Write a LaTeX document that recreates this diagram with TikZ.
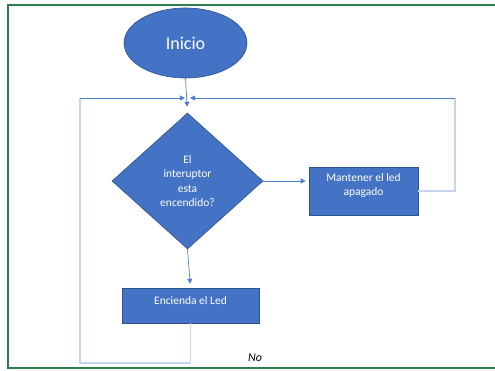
\documentclass[tikz,border=0pt]{standalone}
\usepackage{fontspec}
\setmainfont{Carlito}
\usetikzlibrary{shapes.geometric,arrows.meta}
\definecolor{fillblue}{HTML}{4472C4}
\definecolor{edgeblue}{HTML}{2F528F}
\definecolor{lineblue}{HTML}{4F7FD2}
\definecolor{lightblue}{HTML}{C5D4EF}
\definecolor{framegreen}{HTML}{2E7D4F}
\tikzset{
  shapebox/.style={draw=edgeblue, line width=0.6pt, fill=fillblue, text=white, font=\fontsize{11.5}{14.5}\selectfont, align=center, inner sep=0pt},
  flow/.style={draw=lineblue, line width=0.7pt, -{Triangle[length=5pt,width=5pt]}},
  loopline/.style={draw=lightblue, line width=1.3pt},
  toparrow/.style={draw=lineblue, line width=0.8pt, -{Triangle[length=5pt,width=5pt]}}
}
\begin{document}
\begin{tikzpicture}[x=1pt,y=-1pt]
\useasboundingbox (0,0) rectangle (495,371);
\draw[framegreen, line width=1.6pt] (497,5) -- (8,5) -- (8,368) -- (497,368);

\node[shapebox, ellipse, minimum width=123pt, minimum height=70pt, font=\fontsize{18}{20}\selectfont] (inicio) at (185.5,43) {Inicio};
\node[shapebox, diamond, minimum width=151pt, minimum height=136pt] (dec) at (187.5,181) {El\\interuptor\\esta\\encendido?};
\node[shapebox, rectangle, minimum width=109pt, minimum height=48pt] (mant) at (363.5,191) {Mantener el led\\apagado\\[-2pt]};
\node[shapebox, rectangle, minimum width=137pt, minimum height=35pt] (enc) at (190.5,305.5) {Encienda el Led\\[-4pt]};
\node[font=\itshape\fontsize{12}{14}\selectfont] (no) at (255,358) {No};

\coordinate (jl) at (185,98);
\coordinate (jr) at (190,98);
\coordinate (cl) at (80,98);
\coordinate (cb) at (80,363);
\coordinate (cr) at (455,98);

\draw[flow, shorten >=6pt] (inicio.south) -- (dec.north);
\draw[flow, shorten >=3pt] (dec.east) -- (dec.east -| mant.west);
\draw[flow, shorten >=4pt] (dec.south) -- (enc.north);

\draw[loopline] (enc.south) -- (enc.south |- cb) -- (cb) -- (cl);
\draw[toparrow] (cl) -- (jl);
\draw[loopline] (mant.east) -| (cr);
\draw[toparrow] (cr) -- (jr);
\end{tikzpicture}
\end{document}
